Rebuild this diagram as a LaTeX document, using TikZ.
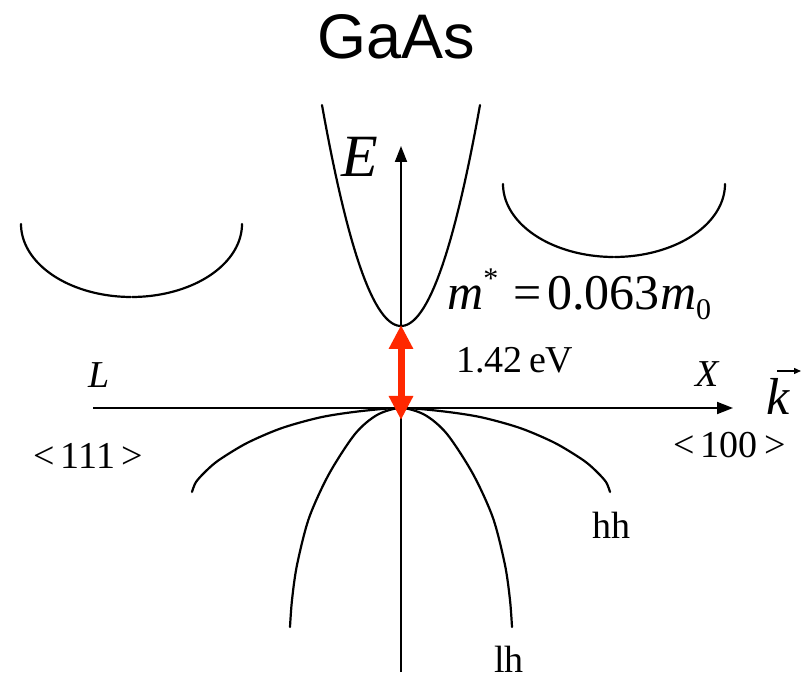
\documentclass[tikz,border=0pt]{standalone}
\usepackage{fontspec}
\setmainfont{Liberation Serif}
\newfontfamily\headfont{Liberation Sans}
\usetikzlibrary{arrows.meta}
\definecolor{gapred}{RGB}{255,40,0}
\tikzset{
  band/.style={line width=2.2pt, line cap=round},
  axis/.style={line width=1.8pt, -{Triangle[width=12pt,length=16pt]}},
  lbl/.style={inner sep=0pt, anchor=base west},
  fs/.style={font=\fontsize{#1}{#1}\selectfont}
}
\begin{document}
\begin{tikzpicture}[x=1pt,y=-1pt]
\useasboundingbox (0,0) rectangle (807,679);
% axes
\coordinate (eb) at (401,672);
\coordinate (et) at (401,146);
\coordinate (kl) at (93,408);
\coordinate (kr) at (733,408);
\draw[axis] (eb) -- (et);
\draw[axis] (kl) -- (kr);
% conduction band at Gamma
\draw[band] plot[domain=-79:79,samples=60] ({401+\x},{326-0.0354*\x*\x});
% L valley
\draw[band] plot[domain=0:89.6,samples=40] ({131.5+110.5*cos(\x)},{224+73*sin(\x)});
\draw[band] plot[domain=90.4:180,samples=40] ({131.5+110.5*cos(\x)},{224+73*sin(\x)});
% X valley
\draw[band] plot[domain=0:89.6,samples=40] ({614+111*cos(\x)},{184+73*sin(\x)});
\draw[band] plot[domain=90.4:180,samples=40] ({614+111*cos(\x)},{184+73*sin(\x)});
% heavy holes
\draw[band] plot[smooth] coordinates {(192,492) (196,482) (206,471) (219,460) (247,443) (282,428) (322,417) (362,411) (401,408) (440,411) (480,417) (520,428) (555,443) (583,460) (596,471) (606,482) (610,492)};
% light holes
\draw[band] plot[smooth] coordinates {(290,627) (292,600) (297,565) (309,518) (329,474) (355,434) (377,415) (401,408) (425,415) (447,434) (473,474) (493,518) (505,565) (510,600) (512,627)};
% band gap arrow
\coordinate (cbm) at (401,325);
\coordinate (vbm) at (401,420);
\draw[gapred, line width=7pt, {Triangle[width=23pt,length=24pt]}-{Triangle[width=23pt,length=24pt]}] (cbm) -- (vbm);
% labels
\node[inner sep=0pt, anchor=base, fs=63] (title) at (396,59) {\headfont GaAs};
\node[lbl, fs=60] (E) at (341,177) {\itshape E};
\node[lbl, fs=50] (mass) at (447,310) {\itshape m\upshape\raisebox{0.42em}{\fontsize{30}{30}\selectfont *}\hspace{0.3em}=\hspace{0.12em}0.063\itshape m\upshape\raisebox{-0.2em}{\fontsize{30}{30}\selectfont 0}};
\node[lbl, fs=38] (gap) at (456,373) {1.42\,eV};
\node[lbl, fs=38] (L) at (88,388) {\itshape L};
\node[lbl, fs=38] (X) at (695,387) {\itshape X};
\node[lbl, fs=38] (d111) at (33,468) {<\,111\,>};
\node[lbl, fs=38] (d100) at (673,457) {<\,100\,>};
\node[lbl, fs=52] (k) at (766,415) {\itshape k};
\coordinate (ka) at (777,371);
\coordinate (kb) at (801,371);
\draw[line width=1.3pt, -{Triangle[width=6pt,length=7pt]}] (ka) -- (kb);
\node[lbl, fs=38] (hh) at (592,538) {hh};
\node[lbl, fs=38] (lh) at (494,672) {lh};
\end{tikzpicture}
\end{document}
